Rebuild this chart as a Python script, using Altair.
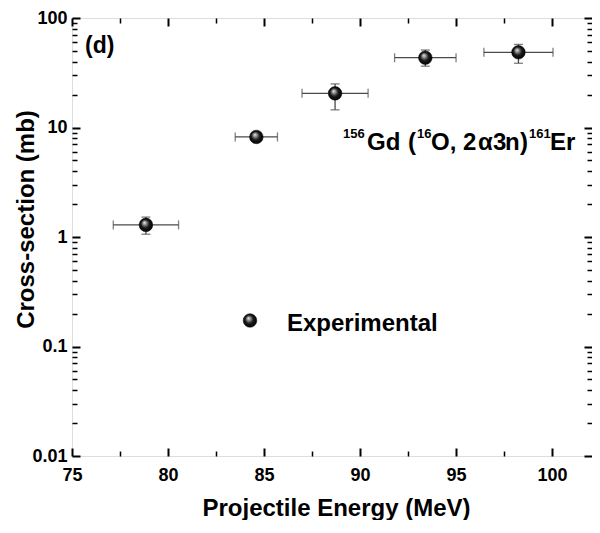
import altair as alt
import pandas as pd

# ---- data ----
energy = [78.85, 84.6, 88.7, 93.4, 98.25]          # MeV
energy_err = [1.7, 1.1, 1.72, 1.6, 1.8]            # MeV
cross_section = [1.29, 8.2, 20.5, 43.4, 48.6]     # mb
cs_low = [1.06, 7.5, 14.5, 36.3, 38.6]
cs_high = [1.52, 8.9, 25.0, 51.0, 57.4]

x_major = [75, 80, 85, 90, 95, 100]
x_minor = [77.5, 82.5, 87.5, 92.5, 97.5]
y_major = [0.01, 0.1, 1, 10, 100]
y_minor = [0.02, 0.03, 0.04, 0.05, 0.06, 0.07, 0.08, 0.09,
           0.2, 0.3, 0.4, 0.5, 0.6, 0.7, 0.8, 0.9,
           2, 3, 4, 5, 6, 7, 8, 9,
           20, 30, 40, 50, 60, 70, 80, 90]

df = pd.DataFrame({
    "E": energy,
    "dE": energy_err,
    "sig": cross_section,
    "lo": cs_low,
    "hi": cs_high,
})
df["E_lo"] = df["E"] - df["dE"]
df["E_hi"] = df["E"] + df["dE"]

W, H = 520, 438
xs = alt.Scale(domain=[75, 102.08], nice=False, zero=False)
ys = alt.Scale(type="log", domain=[0.01, 100], nice=False)

tickcommon = dict(domain=False, grid=False, labels=False, title=None,
                  tickColor="black")


def tick_axis(orient, values, size, width):
    return alt.Axis(orient=orient, values=values, tickSize=size,
                    tickWidth=width, offset=-size, **tickcommon)


LAB = "Liberation Sans"
ax_x_main = alt.Axis(orient="bottom", values=x_major, ticks=False, tickSize=0,
                     domain=False, grid=False, labelFont=LAB, labelFontSize=18,
                     labelFontWeight="bold", labelColor="black", labelPadding=10,
                     labelFlush=False, labelOverlap=False,
                     title="Projectile Energy (MeV)", titleFont=LAB,
                     titleFontSize=24, titleFontWeight="bold", titleColor="black",
                     titleX=264, titleY=59, titleBaseline="alphabetic")
ax_y_main = alt.Axis(orient="left", values=y_major, format="~g", ticks=False,
                     tickSize=0, domain=False, grid=False, labelFont=LAB,
                     labelFontSize=18, labelFontWeight="bold", labelColor="black",
                     labelPadding=5, labelFlush=False, labelOverlap=False,
                     title="Cross-section (mb)", titleFont=LAB, titleFontSize=24,
                     titleFontWeight="bold", titleColor="black", titleX=-39,
                     titleY=201, titleBaseline="alphabetic")

base = alt.Chart(df)
ERR = "#4a4a4a"

xbar = base.mark_rule(color=ERR, strokeWidth=1.3).encode(
    x=alt.X("E_lo:Q", scale=xs, axis=tick_axis("bottom", x_major, 8, 2)),
    x2="E_hi:Q",
    y=alt.Y("sig:Q", scale=ys, axis=tick_axis("left", y_major, 8, 2)),
)
xcap_lo = base.mark_tick(orient="vertical", size=9, thickness=1.3, color=ERR).encode(
    x=alt.X("E_lo:Q", scale=xs, axis=tick_axis("bottom", x_minor, 5, 1.5)),
    y=alt.Y("sig:Q", scale=ys, axis=tick_axis("left", y_minor, 5, 1.5)),
)
xcap_hi = base.mark_tick(orient="vertical", size=9, thickness=1.3, color=ERR).encode(
    x=alt.X("E_hi:Q", scale=xs, axis=tick_axis("top", x_major, 8, 2)),
    y=alt.Y("sig:Q", scale=ys, axis=tick_axis("right", y_major, 8, 2)),
)
ybar = base.mark_rule(color=ERR, strokeWidth=1.3).encode(
    x=alt.X("E:Q", scale=xs, axis=tick_axis("top", x_minor, 5, 1.5)),
    y=alt.Y("lo:Q", scale=ys, axis=tick_axis("right", y_minor, 5, 1.5)),
    y2="hi:Q",
)
ycap_lo = base.mark_tick(orient="horizontal", size=9, thickness=1.3, color=ERR).encode(
    x=alt.X("E:Q", scale=xs, axis=None),
    y=alt.Y("lo:Q", scale=ys, axis=None),
)
ycap_hi = base.mark_tick(orient="horizontal", size=9, thickness=1.3, color=ERR).encode(
    x=alt.X("E:Q", scale=xs, axis=None),
    y=alt.Y("hi:Q", scale=ys, axis=None),
)

sphere = alt.RadialGradient(
    gradient="radial",
    stops=[alt.GradientStop(offset=0, color="#f0f0f0"),
           alt.GradientStop(offset=0.22, color="#9a9a9a"),
           alt.GradientStop(offset=0.55, color="#1a1a1a"),
           alt.GradientStop(offset=1, color="#000000")],
    x1=0.38, y1=0.32, r1=0, x2=0.5, y2=0.5, r2=0.55,
)

points = base.mark_point(filled=True, shape="circle", size=185, fill=sphere,
                         opacity=1, stroke="#000000", strokeWidth=0.5).encode(
    x=alt.X("E:Q", scale=xs, axis=ax_x_main),
    y=alt.Y("sig:Q", scale=ys, axis=ax_y_main),
)

one = alt.Data(values=[{"a": 1}])

legend_pt = alt.Chart(one).mark_point(filled=True, shape="circle", size=185,
                                      fill=sphere, opacity=1, stroke="#000000",
                                      strokeWidth=0.5).encode(
    x=alt.value(178), y=alt.value(302.5))
legend_txt = alt.Chart(one).mark_text(text="Experimental", font=LAB, fontSize=24,
                                      fontWeight="bold", align="left",
                                      baseline="alphabetic", color="black").encode(
    x=alt.value(215), y=alt.value(313))
panel_lbl = alt.Chart(one).mark_text(text="(d)", font=LAB, fontSize=23,
                                     fontWeight="bold", align="left",
                                     baseline="alphabetic", color="black").encode(
    x=alt.value(13), y=alt.value(35))

# reaction label, pieces with superscripts
pieces = [("156", 271, 120, 13), ("Gd", 295, 132, 24), ("(", 336, 132, 24),
          ("16", 345, 120, 13), ("O,", 359, 132, 24), ("2", 391, 132, 24),
          ("\u03b1", 406, 132, 24), ("3", 421, 132, 24), ("n", 433, 132, 24),
          (")", 448, 132, 24), ("161", 457, 120, 13), ("Er", 478, 132, 24)]
ann = []
for t, px, py, fs in pieces:
    ann.append(alt.Chart(one).mark_text(text=t, font=LAB, fontSize=fs,
                                        fontWeight="bold", align="left",
                                        baseline="alphabetic", color="black").encode(
        x=alt.value(px), y=alt.value(py)))

chart = alt.layer(
    xbar, xcap_lo, xcap_hi, ybar, ycap_lo, ycap_hi, points,
    legend_pt, legend_txt, panel_lbl, *ann
).resolve_axis(x="independent", y="independent").properties(
    width=W, height=H,
    autosize=alt.AutoSizeParams(type="none"),
    padding={"left": 64, "top": 10, "right": 0, "bottom": 64},
).configure_view(stroke="black", strokeWidth=2).configure(background="white")

chart.save("out.html", embed_options={"renderer": "svg", "actions": False})
